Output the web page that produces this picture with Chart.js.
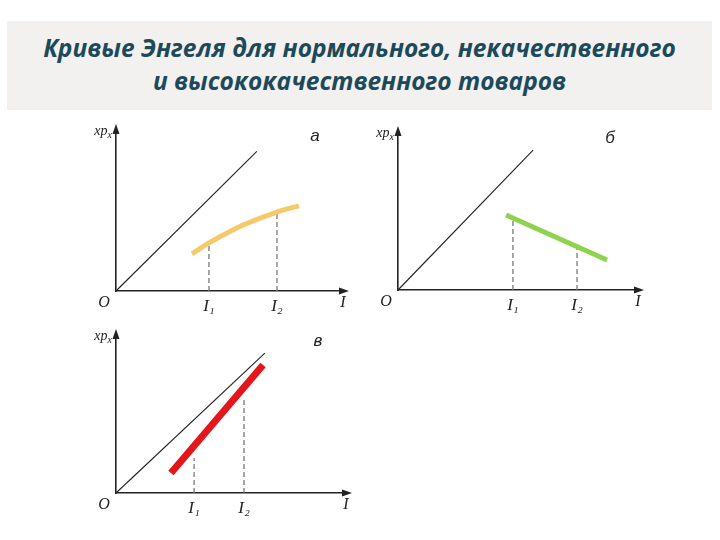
<!DOCTYPE html>
<html>
<head>
<meta charset="utf-8">
<script src="https://cdn.jsdelivr.net/npm/chart.js@4.4.1/dist/chart.umd.min.js"></script>
<style>
  body { margin: 0; background: #fff; }
  #page { position: relative; width: 720px; height: 540px; overflow: hidden; }
  #title {
    position: absolute; left: 7px; top: 21px; width: 705px; height: 89px;
    background: #f2f1f0; color: #1d4a5a; text-align: center;
    font: italic bold 24.5px "Open Sans", sans-serif; line-height: 33px;
    padding-top: 10px; box-sizing: border-box;
  }
  canvas { position: absolute; }
</style>
</head>
<body>
<div id="page">
  <div id="title">Кривые Энгеля для нормального, некачественного<br>и высококачественного товаров</div>
  <canvas id="chartA"></canvas>
  <canvas id="chartB"></canvas>
  <canvas id="chartC"></canvas>
</div>
<script>
// values in axis units (same unit on both axes, 45 degree line = x*p_x = I)
const panelLetters = ['a', 'б', 'в'];
const tickLabels = ['I₁', 'I₂'];

const diagEndX = [6.15, 5.9, 6.5];
const diagEndY = [6.1, 6.11, 6.11];
const axisMaxX = [10, 10.57, 10.13];
const axisMaxY = [7.12, 6.99, 6.99];

// a - normal good
const normalX = [3.32, 4.06, 5.55, 7.03, 7.99];
const normalY = [1.62, 2.1, 2.88, 3.45, 3.72];
const incomeA = [4.06, 7.03];
const dropA = [2.14, 3.45];

// б - inferior good
const inferiorX = [4.72, 9.13];
const inferiorY = [3.28, 1.31];
const incomeB = [5.02, 7.82];
const dropB = [3.15, 1.83];

// в - luxury good
const luxuryX = [2.4, 6.42];
const luxuryY = [0.87, 5.59];
const incomeC = [3.41, 5.59];
const dropC = [1.53, 4.1];

const curvesX = [normalX, inferiorX, luxuryX];
const curvesY = [normalY, inferiorY, luxuryY];
const incomes = [incomeA, incomeB, incomeC];
const drops = [dropA, dropB, dropC];
const curveColors = ['#f6c96c', '#8fd24e', '#e3161b'];
const curveWidths = [5, 5, 7];

// layout
const origins = [[116, 291], [398, 290], [116, 493]];
const unitPx = 22.9;
const padL = 36, padT = 22, padR = 16, axisH = 30;
const ink = '#222';
const serif = '"Liberation Serif", "DejaVu Serif", serif';

function pts(xs, ys) {
  return xs.map((x, i) => ({ x: x, y: ys[i] }));
}

const decorPlugin = {
  id: 'decor',
  afterDraw(chart) {
    const ctx = chart.ctx;
    const a = chart.chartArea;
    const k = chart.options.plugins.decor.panel;
    ctx.save();
    ctx.fillStyle = ink;
    // arrows
    ctx.beginPath();
    ctx.moveTo(a.right + 4, a.bottom);
    ctx.lineTo(a.right - 6, a.bottom - 3.5);
    ctx.lineTo(a.right - 6, a.bottom + 3.5);
    ctx.closePath();
    ctx.fill();
    ctx.beginPath();
    ctx.moveTo(a.left, a.top - 4);
    ctx.lineTo(a.left - 3.5, a.top + 6);
    ctx.lineTo(a.left + 3.5, a.top + 6);
    ctx.closePath();
    ctx.fill();
    // O and I
    ctx.font = 'italic 16px ' + serif;
    ctx.textAlign = 'center';
    ctx.textBaseline = 'middle';
    ctx.fillText('O', a.left - 12, a.bottom + 12);
    ctx.fillText('I', a.right - 2, a.bottom + 12);
    // xp_x
    ctx.textAlign = 'left';
    ctx.textBaseline = 'alphabetic';
    ctx.font = 'italic 14px ' + serif;
    const w1 = ctx.measureText('xp').width;
    ctx.font = 'italic 10px ' + serif;
    const w2 = ctx.measureText('x').width;
    const x0 = a.left - 4 - w1 - w2;
    ctx.font = 'italic 14px ' + serif;
    ctx.fillText('xp', x0, a.top + 7);
    ctx.font = 'italic 10px ' + serif;
    ctx.fillText('x', x0 + w1, a.top + 10);
    // panel letter
    ctx.font = 'italic 17px "Liberation Sans", sans-serif';
    ctx.textAlign = 'center';
    ctx.textBaseline = 'middle';
    ctx.fillText(panelLetters[k], a.right - 30, a.top + 8);
    ctx.restore();
  }
};

function makeChart(id, k) {
  const w = axisMaxX[k] * unitPx, h = axisMaxY[k] * unitPx;
  const cv = document.getElementById(id);
  const [ox, oy] = origins[k];
  cv.style.left = (ox - padL) + 'px';
  cv.style.top = (oy - h - padT) + 'px';
  cv.width = Math.round(w + padL + padR);
  cv.height = Math.round(h + padT + axisH);
  cv.style.width = cv.width + 'px';
  cv.style.height = cv.height + 'px';

  const datasets = [
    {
      data: pts(curvesX[k], curvesY[k]),
      borderColor: curveColors[k], borderWidth: curveWidths[k],
      tension: 0.3, borderCapStyle: 'butt', order: 0
    },
    {
      data: [{ x: 0, y: 0 }, { x: diagEndX[k], y: diagEndY[k] }],
      borderColor: ink, borderWidth: 1.1, order: 2
    }
  ];
  incomes[k].forEach((v, i) => {
    datasets.push({
      data: [{ x: v, y: 0 }, { x: v, y: drops[k][i] }],
      borderColor: '#7a7a7a', borderWidth: 1.3, borderDash: [5, 3], order: 1
    });
  });

  return new Chart(cv, {
    type: 'scatter',
    data: { datasets: datasets },
    options: {
      responsive: false,
      animation: false,
      showLine: true,
      clip: false,
      elements: { point: { radius: 0, hoverRadius: 0 } },
      layout: { padding: { left: padL, top: padT, right: padR, bottom: 0 } },
      plugins: {
        legend: { display: false },
        tooltip: { enabled: false },
        decor: { panel: k }
      },
      scales: {
        x: {
          type: 'linear', min: 0, max: axisMaxX[k],
          grid: { display: false, drawTicks: false },
          border: { display: true, color: ink, width: 1.6 },
          afterBuildTicks: (s) => { s.ticks = incomes[k].map(v => ({ value: v })); },
          afterFit: (s) => { s.height = axisH; },
          ticks: {
            padding: 5, color: ink, autoSkip: false, maxRotation: 0,
            font: { family: serif, style: 'italic', size: 17 },
            callback: (v, i) => tickLabels[i]
          }
        },
        y: {
          type: 'linear', min: 0, max: axisMaxY[k],
          grid: { display: false, drawTicks: false },
          border: { display: true, color: ink, width: 1.6 },
          ticks: { display: false },
          afterFit: (s) => { s.width = 0; }
        }
      }
    },
    plugins: [decorPlugin]
  });
}

makeChart('chartA', 0);
makeChart('chartB', 1);
makeChart('chartC', 2);
</script>
</body>
</html>
